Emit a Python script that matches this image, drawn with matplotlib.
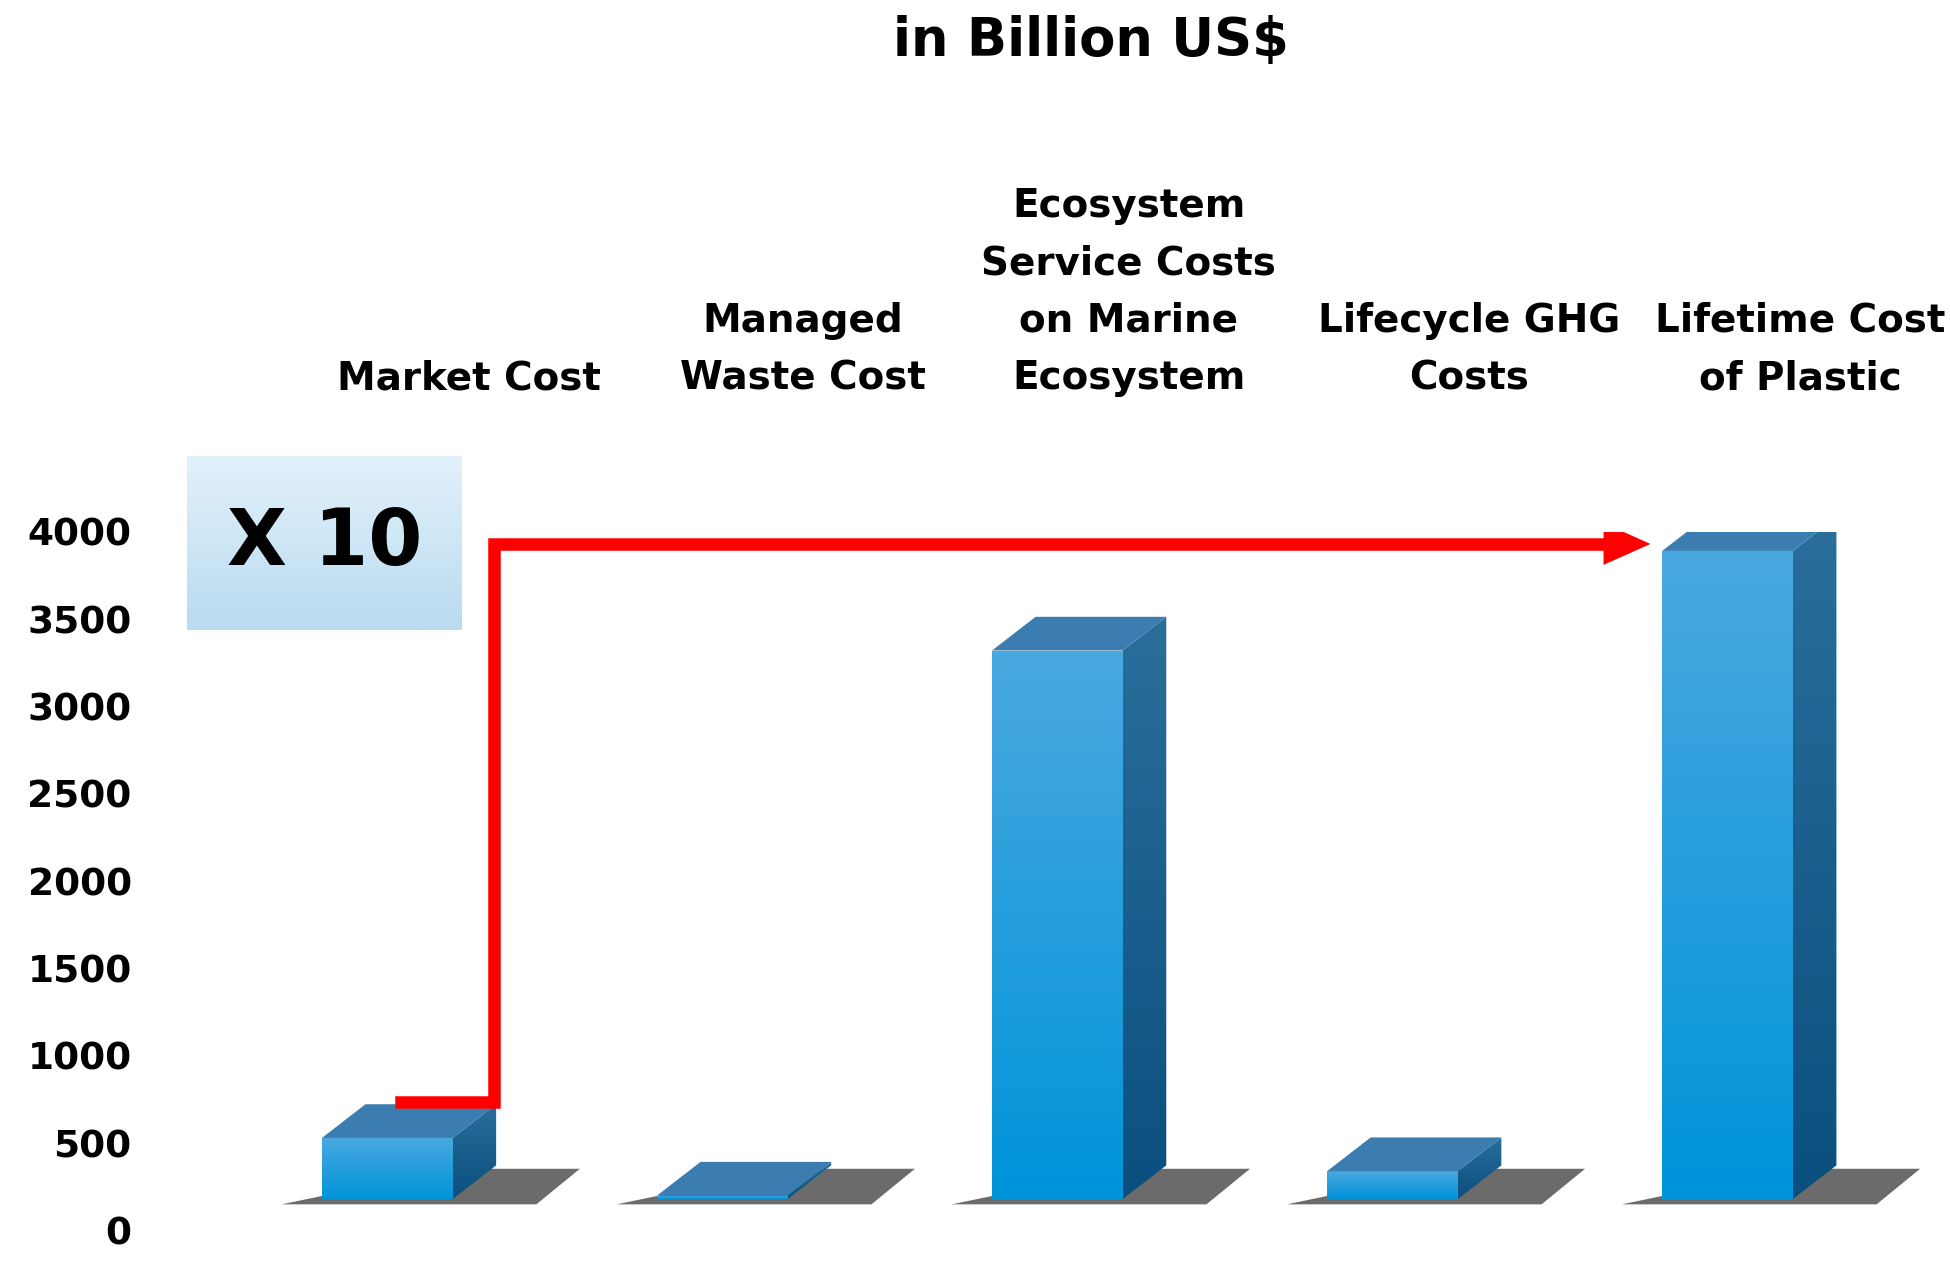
import matplotlib.pyplot as plt
import numpy as np
from matplotlib.patches import Polygon, Rectangle
from matplotlib.colors import LinearSegmentedColormap

categories = ['Market Cost', 'Managed\nWaste Cost', 'Ecosystem\nService Costs\non Marine\nEcosystem',
              'Lifecycle GHG\nCosts', 'Lifetime Cost\nof Plastic']
values = [530, 200, 3320, 340, 3890]   # read at front top edge on the axis
floor = 180                              # 3D floor level of the original chart
yticks = [0, 500, 1000, 1500, 2000, 2500, 3000, 3500, 4000]

plt.rcParams['font.family'] = ['DejaVu Sans']
fig = plt.figure(figsize=(19.5, 12.66), dpi=100)
ax = fig.add_axes([0.096, 0.028, 0.904, 0.552])
ax.set_yticks(yticks)
ax.set_yticklabels([str(t) for t in yticks], fontsize=27, fontweight='bold')
ax.tick_params(axis='y', length=0, pad=40)
ax.set_xticks([])
for s in ax.spines.values():
    s.set_visible(False)

w = 0.39
dx = 0.13
dy = 193
grad = np.linspace(0, 1, 100).reshape(-1, 1)
cmap = LinearSegmentedColormap.from_list('b', ['#0094da', '#4aa8e0'])
scmap = LinearSegmentedColormap.from_list('s', ['#0a4f7d', '#2a6e9c'])

for i, v in enumerate(values):
    x0 = i - w / 2
    # shadow
    ax.add_patch(Polygon([(x0 - 0.12, floor - 30), (x0 + w + dx + 0.12, floor - 30),
                          (x0 + w + dx + 0.25, floor + dy * 0.9), (x0 + w, floor + dy * 0.9)],
                         closed=True, color='#3a3a3a', alpha=0.75, zorder=1, lw=0))
    front = Rectangle((x0, floor), w, v - floor, facecolor='none', lw=0, zorder=3)
    ax.add_patch(front)
    im = ax.imshow(grad, extent=(x0, x0 + w, floor, v), aspect='auto', cmap=cmap, origin='lower', zorder=3)
    im.set_clip_path(front)
    side = Polygon([(x0 + w, floor), (x0 + w + dx, floor + dy), (x0 + w + dx, v + dy), (x0 + w, v)],
                   closed=True, facecolor='none', zorder=3, lw=0)
    ax.add_patch(side)
    im2 = ax.imshow(grad, extent=(x0 + w, x0 + w + dx, floor, v + dy), aspect='auto', cmap=scmap,
                    origin='lower', zorder=3)
    im2.set_clip_path(side)
    ax.add_patch(Polygon([(x0, v), (x0 + w, v), (x0 + w + dx, v + dy), (x0 + dx, v + dy)],
                         closed=True, color='#3b7db0', zorder=3, lw=0))

ax.set_xlim(-0.597, 4.664)
ax.set_ylim(0, 4000)

# red arrow
ax.plot([0.04, 0.32, 0.32, 3.65], [735, 735, 3930, 3930], color='#ff0000', lw=9, zorder=5,
        solid_joinstyle='miter', clip_on=False)
ax.add_patch(Polygon([(3.63, 3930 + 120), (3.77, 3930), (3.63, 3930 - 120)], closed=True,
                     color='#ff0000', lw=0, zorder=6))

# X 10 box
bx = fig.add_axes([0.096, 0.502, 0.141, 0.138])
bx.imshow(grad, extent=(0, 1, 0, 1), aspect='auto',
          cmap=LinearSegmentedColormap.from_list('c', ['#b9dbf1', '#e3f1fa']), origin='lower')
bx.axis('off')
bx.text(0.5, 0.5, 'X 10', fontsize=56, fontweight='bold', ha='center', va='center')

# labels
lx = [375, 642, 903, 1175, 1440]
for c, x in zip(categories, lx):
    fig.text(x / 1560, 1 - 318 / 1013, c, ha='center', va='bottom', fontsize=28,
             fontweight='bold', linespacing=1.65)
fig.text(873 / 1560, 1 - 33 / 1013, 'in Billion US$', ha='center', va='center', fontsize=38, fontweight='bold')

fig.savefig('out.png')
